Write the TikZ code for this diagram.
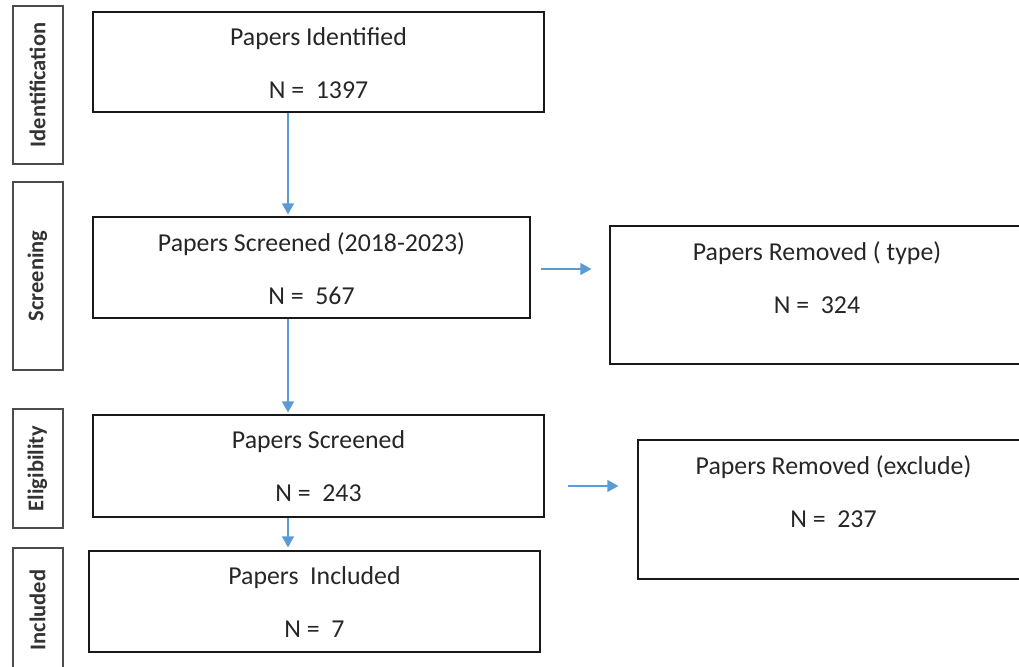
\documentclass[tikz,border=0pt]{standalone}
\usepackage{fontspec}
\setmainfont{Carlito}
\usetikzlibrary{arrows.meta}
\usetikzlibrary{positioning}
\definecolor{flowblue}{RGB}{91,155,213}

\begin{document}
\begin{tikzpicture}[x=1pt,y=-1pt,
            box/.style={draw=black!90,line width=1.2pt},
            txt/.style={inner sep=0pt,align=center,text=black!85,
                font=\fontsize{25.8}{53}\selectfont},
            stage/.style={draw=black!70,line width=2pt,rotate=90,inner sep=0pt,
                minimum height=50,text=black!80,
                font=\fontsize{22.5}{25}\selectfont\bfseries},
            flow/.style={flowblue,line width=1.3pt,
                -{Triangle[length=11pt,width=12pt]}}]
            \path[use as bounding box] (0,0) rectangle (1019,666);
            \clip (0,0) rectangle (1019,666);

            \node[stage,minimum width=158] (lid) at (37.5,85) {Identification};
            \node[stage,minimum width=188] (lsc) at (37.5,276) {Screening};
            \node[stage,minimum width=119] (lel) at (37.5,468.5) {Eligibility};
            \node[stage,minimum width=124] (linc) at (37.5,610) {Included};

            \node[box,minimum width=451,minimum height=100] (id) at (318.5,62) {};
            \node[box,minimum width=437,minimum height=101] (sc) at (311.5,267.5) {};
            \node[box,minimum width=414,minimum height=138] (rt) at (817,295) {};
            \node[box,minimum width=451,minimum height=102] (el) at (318.5,466) {};
            \node[box,minimum width=391,minimum height=139] (re) at (833.5,509.5) {};
            \node[box,minimum width=451,minimum height=101] (inc) at (314.5,601.5) {};

            \node[txt,below=16pt of id.north] (id-t) {Papers Identified\\N =\ \ 1397};
            \node[txt,below=16pt of sc.north] (sc-t) {Papers Screened (2018-2023)\\N =\ \ 567};
            \node[txt,below=16pt of rt.north] (rt-t) {Papers Removed ( type)\\N =\ \ 324};
            \node[txt,below=16pt of el.north] (el-t) {Papers Screened\\N =\ \ 243};
            \node[txt,below=16pt of re.north] (re-t) {Papers Removed (exclude)\\N =\ \ 237};
            \node[txt,below=16pt of inc.north] (inc-t) {Papers\ \ Included\\N =\ \ 7};

            \coordinate (ax) at (288,0);
            \draw[flow,shorten >=2pt] (id.south -| ax) -- (sc.north -| ax);
            \draw[flow,shorten >=2pt] (sc.south -| ax) -- (el.north -| ax);
            \draw[flow,shorten >=3pt] (el.south -| ax) -- (inc.north -| ax);

            \coordinate (a1) at ([xshift=10pt,yshift=-1.5pt]sc.east);
            \coordinate (a2) at ([shift={(23,20)}]el.east);
            \draw[flow,shorten >=18pt] (a1) -- (a1 -| rt.west);
            \draw[flow,shorten >=19pt] (a2) -- (a2 -| re.west);
        \end{tikzpicture}
\end{document}
